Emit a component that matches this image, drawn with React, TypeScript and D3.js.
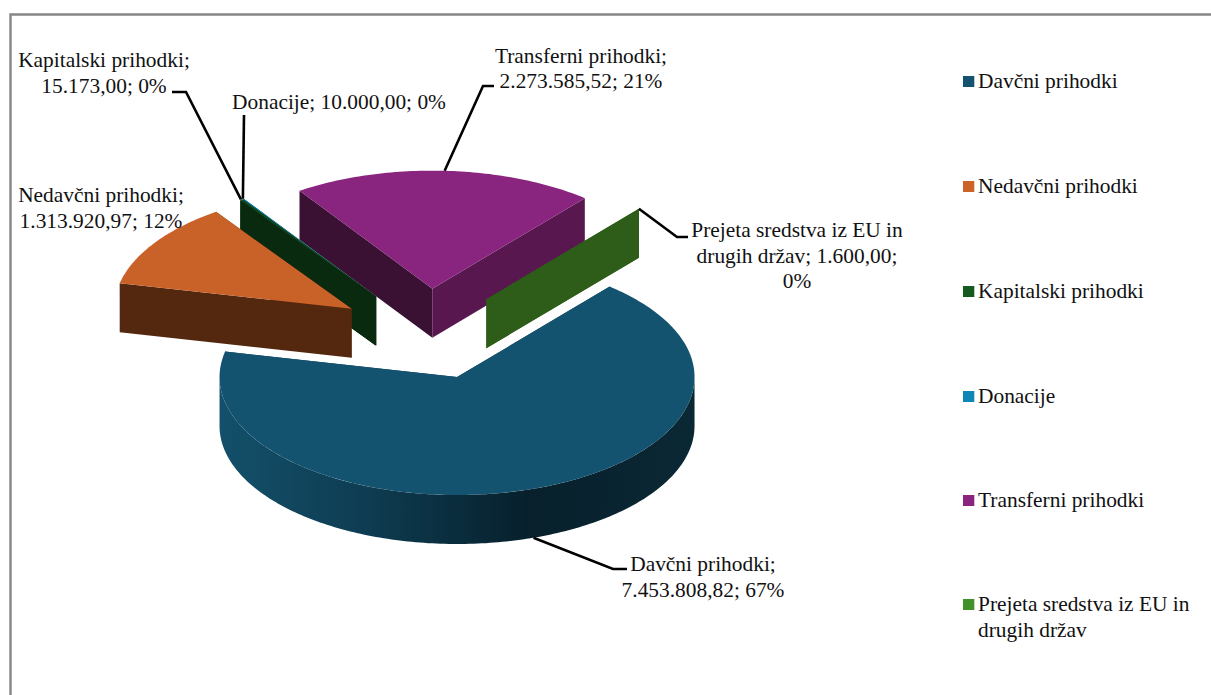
import React from "react";
import * as d3 from "d3";

const categories = ["Davčni prihodki", "Nedavčni prihodki", "Kapitalski prihodki", "Donacije", "Transferni prihodki", "Prejeta sredstva iz EU in drugih držav"];
const values = [7453808.82, 1313920.97, 15173.0, 10000.0, 2273585.52, 1600.0];
const percentLabels = ["67%", "12%", "0%", "0%", "21%", "0%"];
const valueLabels = ["7.453.808,82", "1.313.920,97", "15.173,00", "10.000,00", "2.273.585,52", "1.600,00"];

const legendColors = ["#14536F", "#CC6428", "#155A1F", "#0E87B6", "#89257E", "#42902A"];
const topColors = ["#14536F", "#C96228", "#12501C", "#0E87B6", "#89257E", "#3C8626"];
const startWallColors = ["#0E3A50", "#54280F", "#0A2A10", "#0A2A10", "#3A1033", "#2D5D18"];
const endWallColors = ["#0E3A50", "#54280F", "#0A2A10", "#0A2A10", "#58174F", "#2D5D18"];

// layout of the label blocks: text lines, centre x, first baseline, elbow points of the leader
const labelLines = [
  ["Davčni prihodki;", "7.453.808,82; 67%"],
  ["Nedavčni prihodki;", "1.313.920,97; 12%"],
  ["Kapitalski prihodki;", "15.173,00; 0%"],
  ["Donacije; 10.000,00; 0%"],
  ["Transferni prihodki;", "2.273.585,52; 21%"],
  ["Prejeta sredstva iz EU in", "drugih držav; 1.600,00;", "0%"],
];
const labelCx = [703, 101, 104, 339, 581, 797];
const labelY = [571, 202, 67, 109, 62.5, 237];
const labelElbows: [number, number][][] = [
  [[613, 569], [627, 569]],
  [],
  [[186, 92], [172, 92]],
  [[244, 115]],
  [[483, 86], [494, 86]],
  [[677, 237], [688, 237]],
];
const legendRows = [[82], [187], [292], [397], [501], [605, 631]];
const legendLines = [["Davčni prihodki"], ["Nedavčni prihodki"], ["Kapitalski prihodki"], ["Donacije"], ["Transferni prihodki"], ["Prejeta sredstva iz EU in", "drugih držav"]];

const FONT = "'Liberation Serif', 'Times New Roman', serif";
const CX = 427.6, CY = 334, RX = 237.5, RY = 118, DEPTH = 49, EXPLODE = 0.385;
const DEG = Math.PI / 180;

type P = [number, number];
const line = d3.line<P>().x(d => d[0]).y(d => d[1]);

const pie = d3.pie<number>().sort(null).startAngle(40 * DEG).endAngle(400 * DEG);
const arcs = pie(values);

function apex(a0: number, a1: number): P {
  const m = (a0 + a1) / 2;
  return [CX + EXPLODE * RX * Math.sin(m), CY - EXPLODE * RY * Math.cos(m)];
}
function rim(o: P, a: number, dz = 0): P {
  return [o[0] + RX * Math.sin(a), o[1] - RY * Math.cos(a) + dz];
}
function arcPts(o: P, a0: number, a1: number, dz = 0): P[] {
  const n = Math.max(2, Math.ceil(Math.abs(a1 - a0) / (1 * DEG)));
  return d3.range(n + 1).map(i => rim(o, a0 + ((a1 - a0) * i) / n, dz));
}

export default function App() {
  const order = [4, 3, 2, 5, 1, 0];
  return (
    <svg width={1211} height={695} style={{ position: "fixed", left: 0, top: 0, background: "#fff" }} fontFamily={FONT}>
      <defs>
        <linearGradient id="wallGrad" gradientUnits="userSpaceOnUse" x1={219} x2={694} y1={0} y2={0}>
          <stop offset="0" stopColor="#13506A" />
          <stop offset="0.3" stopColor="#0E3D53" />
          <stop offset="0.65" stopColor="#07202C" />
          <stop offset="1" stopColor="#0A2834" />
        </linearGradient>
      </defs>
      <path d="M10.5 695V14.5H1211" fill="none" stroke="#868686" strokeWidth={2.4} />

      {order.map(i => {
        const { startAngle: a0, endAngle: a1 } = arcs[i];
        const o = apex(a0, a1);
        const wallA0 = Math.max(a0, 90 * DEG), wallA1 = Math.min(a1, 270 * DEG);
        const hasWall = wallA1 > wallA0;
        const s = rim(o, a0), e = rim(o, a1);
        return (
          <g key={i}>
            <path d={line([o, s, [s[0], s[1] + DEPTH], [o[0], o[1] + DEPTH]])! + "Z"} fill={startWallColors[i]} />
            <path d={line([o, e, [e[0], e[1] + DEPTH], [o[0], o[1] + DEPTH]])! + "Z"} fill={endWallColors[i]} />
            {hasWall && (
              <path
                d={line([...arcPts(o, wallA0, wallA1), ...arcPts(o, wallA1, wallA0, DEPTH)])! + "Z"}
                fill="url(#wallGrad)"
              />
            )}
            <path d={line([o, ...arcPts(o, a0, a1)])! + "Z"} fill={topColors[i]} />
          </g>
        );
      })}

      {arcs.map((d, i) => {
        const elbows = labelElbows[i];
        if (!elbows.length) return null;
        const o = apex(d.startAngle, d.endAngle);
        const m = (d.startAngle + d.endAngle) / 2;
        const dz = Math.cos(m) < 0 ? DEPTH : 0;
        return <path key={i} d={line([rim(o, m, dz), ...elbows])!} fill="none" stroke="#000" strokeWidth={2.6} />;
      })}

      {labelLines.map((ls, i) => (
        <text key={i} x={labelCx[i]} y={labelY[i]} textAnchor="middle" fontSize={21.4} fill="#111">
          {ls.map((t, j) => (
            <tspan key={j} x={labelCx[i]} y={labelY[i] + j * 25.6}>{t}</tspan>
          ))}
        </text>
      ))}

      {legendLines.map((ls, i) => (
        <g key={i}>
          <rect x={963} y={legendRows[i][0] - 6} width={11.3} height={11} fill={legendColors[i]} />
          {ls.map((t, j) => (
            <text key={j} x={978} y={legendRows[i][j] + 6} fontSize={21.4} fill="#111">{t}</text>
          ))}
        </g>
      ))}
    </svg>
  );
}
